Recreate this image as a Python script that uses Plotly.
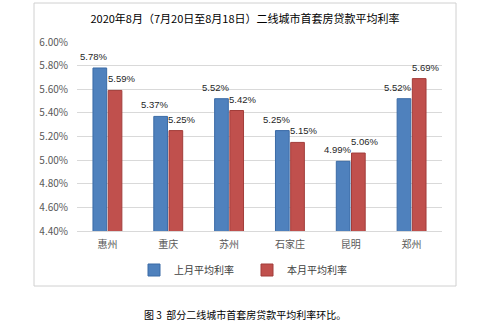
import plotly.graph_objects as go

cities = ["惠州", "重庆", "苏州", "石家庄", "昆明", "郑州"]
last_month = [5.78, 5.37, 5.52, 5.25, 4.99, 5.52]
this_month = [5.59, 5.25, 5.42, 5.15, 5.06, 5.69]
series_names = ["上月平均利率", "本月平均利率"]
title_text = "2020年8月（7月20日至8月18日）二线城市首套房贷款平均利率"
caption_text = "图 3  部分二线城市首套房贷款平均利率环比。"

W, H = 487, 327
L, R, T, B = 77, 45, 42, 96
pw, ph = W - L - R, H - T - B
BARGAP, GROUPGAP = 0.5, 0.1

def px(x):
    return (x - L) / pw

def py(y):
    return (H - B - y) / ph

font = "Noto Sans CJK SC, Liberation Sans, sans-serif"
label_font = "Liberation Sans, Arial, sans-serif"

fig = go.Figure()
fig.add_bar(x=cities, y=last_month, name=series_names[0],
            marker=dict(color="#4F81BD", line=dict(color="#3B6BA6", width=1)))
fig.add_bar(x=cities, y=this_month, name=series_names[1],
            marker=dict(color="#C0504D", line=dict(color="#A23D3A", width=1)))

# value labels above each bar (offset to the bar's slot within the group)
cat_w = pw / len(cities)
slot = cat_w * (1 - BARGAP) / 2
for series, sign in ((last_month, -1), (this_month, 1)):
    for c, v in zip(cities, series):
        fig.add_annotation(x=c, y=v, xref="x", yref="y", text=f"{v:.2f}%",
                           showarrow=False, xanchor="center", yanchor="bottom",
                           xshift=sign * (slot / 2 + 6), yshift=4,
                           font=dict(size=9.5, color="#262626", family=label_font))

fig.update_layout(
    width=W, height=H,
    margin=dict(l=L, r=R, t=T, b=B),
    paper_bgcolor="white", plot_bgcolor="white",
    font=dict(family=font, size=10, color="#595959"),
    barmode="group", bargap=BARGAP, bargroupgap=GROUPGAP,
    showlegend=True,
    legend=dict(orientation="h", x=px(247), xanchor="center", y=py(270), yanchor="middle",
                font=dict(size=10, color="#404040"), itemwidth=30, traceorder="normal",
                entrywidth=68, entrywidthmode="pixels"),
    title=dict(text=title_text, x=(245) / W, xanchor="center", y=1 - 19 / H, yanchor="middle",
               font=dict(size=11, color="#000000", family=font)),
)
fig.update_yaxes(range=[4.4, 6.0], dtick=0.2, tickformat=".2f", ticksuffix="%",
                 showgrid=True, gridcolor="#D9D9D9", gridwidth=1, zeroline=False,
                 showline=False, ticks="", ticklabelstandoff=8,
                 tickfont=dict(size=10, color="#595959"))
fig.update_xaxes(showline=True, linecolor="#D9D9D9", ticks="", ticklabelstandoff=4,
                 tickfont=dict(size=10, color="#595959"))

# chart frame
fig.add_shape(type="rect", xref="paper", yref="paper",
              x0=px(34), x1=px(456), y0=py(286), y1=py(3),
              line=dict(color="#D0D0D0", width=1), layer="below")
fig.add_annotation(text=caption_text, xref="paper", yref="paper",
                   x=px(245), y=py(314), xanchor="center", yanchor="middle",
                   showarrow=False, font=dict(size=10, color="#000000", family=font))

fig.write_html("out.html")
